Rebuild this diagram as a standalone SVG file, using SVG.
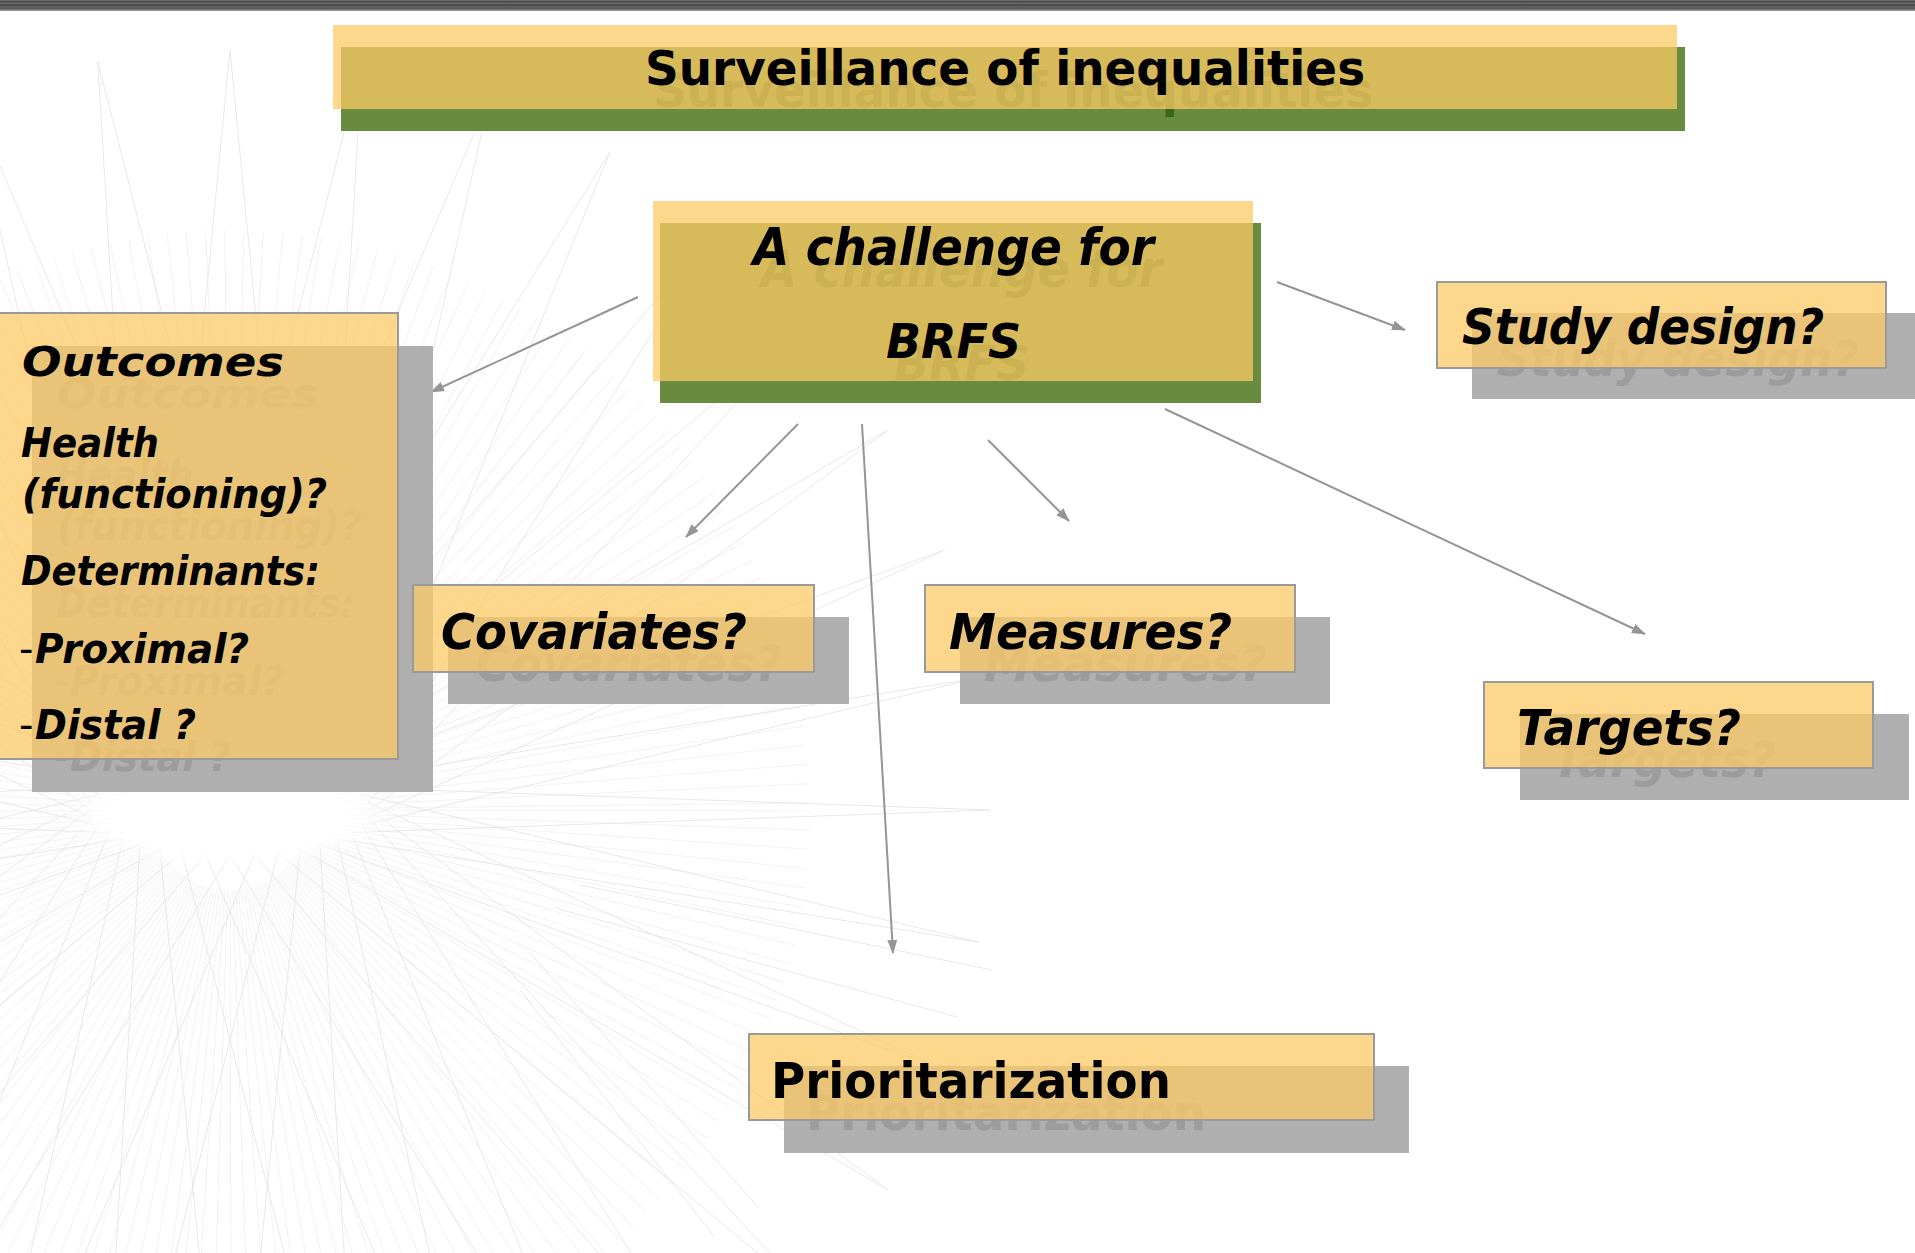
<svg xmlns="http://www.w3.org/2000/svg" xmlns:xlink="http://www.w3.org/1999/xlink" width="1915" height="1253" viewBox="0 0 1915 1253">
  <defs>
    <style>
      .box{fill:#fccb66;fill-opacity:.75;stroke:#9a9a9a;stroke-width:2}
      .hbox{fill:#fccb66;fill-opacity:.75}
      .sh-gray{fill:#afafaf}
      .sh-green{fill:#698b3f}
      .st-gray{fill:#9c9c9c}
      .st-green{fill:#3a6418}
      .ink{fill:#000000}
      .it{font-family:"DejaVu Sans",Verdana,sans-serif;font-weight:bold;font-style:italic}
      .rg{font-family:"DejaVu Sans",Tahoma,sans-serif;font-weight:bold}
      .dash{font-family:"DejaVu Sans",sans-serif;font-weight:normal;font-style:normal}
      .conn{stroke:#959595;stroke-width:2;fill:none}
      .bgl{stroke:#e8e8e8;stroke-width:1;fill:none}
    </style>
    <linearGradient id="topbar" x1="0" y1="0" x2="0" y2="1">
      <stop offset="0" stop-color="#7a7a7a"/>
      <stop offset="0.15" stop-color="#454545"/>
      <stop offset="0.3" stop-color="#6e6e6e"/>
      <stop offset="0.45" stop-color="#404040"/>
      <stop offset="0.6" stop-color="#666666"/>
      <stop offset="0.75" stop-color="#505050"/>
      <stop offset="0.9" stop-color="#858585"/>
      <stop offset="1" stop-color="#a0a0a0"/>
    </linearGradient>
    <radialGradient id="hole" cx="0.5" cy="0.5" r="0.5">
      <stop offset="0" stop-color="#ffffff" stop-opacity="1"/>
      <stop offset="0.7" stop-color="#ffffff" stop-opacity="0.9"/>
      <stop offset="1" stop-color="#ffffff" stop-opacity="0"/>
    </radialGradient>
    <clipPath id="backdrop-clip">
      <rect x="0" y="11" width="1010" height="1242"/>
    </clipPath>
    <marker id="arrow" markerUnits="userSpaceOnUse" markerWidth="14" markerHeight="10" refX="13" refY="5" orient="auto">
      <path d="M0,0 L14,5 L0,10 z" fill="#959595"/>
    </marker>
  </defs>

  <rect x="0" y="0" width="1915" height="1253" fill="#ffffff"/>

  <!-- faint string-art tunnel in the background -->
  <g id="backdrop" clip-path="url(#backdrop-clip)">
    <circle cx="230" cy="810" r="330" fill="none" stroke="#f3f3f3" stroke-width="500" stroke-dasharray="1 10"/>
    <path class="bgl" d="M370,810L888.2,1190M367.9,817.8L812.2,1298.7M361.6,825.4L718.7,1392.2M351.2,832.5L610,1468.2M337.2,838.9L489.9,1524.4M320,844.5L362.2,1558.6M300,849L230,1570M277.9,852.3L97.8,1558.6M254.4,854.3L-29.9,1524.4M230,855L-150,1468.2M205.6,854.3L-258.7,1392.2M182.1,852.3L-352.2,1298.7M160,849L-428.2,1190M140,844.5L-484.4,1069.9M122.8,838.9L-518.6,942.2M108.8,832.5L-530,810M98.4,825.4L-518.6,677.8M92.1,817.8L-484.4,550.1M90,810L-428.2,430M92.1,802.2L-352.2,321.3M98.4,794.6L-258.7,227.8M108.8,787.5L-150,151.8M122.8,781.1L-29.9,95.6M140,775.5L97.8,61.4M160,771L230,50M182.1,767.7L362.2,61.4M205.6,765.7L489.9,95.6M230,765L610,151.8M254.4,765.7L718.7,227.8M277.9,767.7L812.2,321.3M300,771L888.2,430M320,775.5L944.4,550.1M337.2,781.1L978.6,677.8M351.2,787.5L990,810M361.6,794.6L978.6,942.2M367.9,802.2L944.4,1069.9"/>
    <path class="bgl" d="M370,810L888.2,430M367.9,817.8L944.4,550.1M361.6,825.4L978.6,677.8M351.2,832.5L990,810M337.2,838.9L978.6,942.2M320,844.5L944.4,1069.9M300,849L888.2,1190M277.9,852.3L812.2,1298.7M254.4,854.3L718.7,1392.2M230,855L610,1468.2M205.6,854.3L489.9,1524.4M182.1,852.3L362.2,1558.6M160,849L230,1570M140,844.5L97.8,1558.6M122.8,838.9L-29.9,1524.4M108.8,832.5L-150,1468.2M98.4,825.4L-258.7,1392.2M92.1,817.8L-352.2,1298.7M90,810L-428.2,1190M92.1,802.2L-484.4,1069.9M98.4,794.6L-518.6,942.2M108.8,787.5L-530,810M122.8,781.1L-518.6,677.8M140,775.5L-484.4,550.1M160,771L-428.2,430M182.1,767.7L-352.2,321.3M205.6,765.7L-258.7,227.8M230,765L-150,151.8M254.4,765.7L-29.9,95.6M277.9,767.7L97.8,61.4M300,771L230,50M320,775.5L362.2,61.4M337.2,781.1L489.9,95.6M351.2,787.5L610,151.8M361.6,794.6L718.7,227.8M367.9,802.2L812.2,321.3"/>
    <path class="bgl" d="M580,885L992,970M555,908L957,1017M529,952L759,1208M520,990L714,1236"/>
    <ellipse cx="230" cy="815" rx="170" ry="55" fill="url(#hole)"/>
  </g>

  <!-- striped band across the top edge -->
  <rect x="0" y="0" width="1915" height="11" fill="url(#topbar)"/>

  <!-- connectors -->
  <g id="connectors">
    <line class="conn" x1="638" y1="297" x2="431" y2="392" marker-end="url(#arrow)"/>
    <line class="conn" x1="1277" y1="282" x2="1405" y2="330" marker-end="url(#arrow)"/>
    <line class="conn" x1="798" y1="424" x2="686" y2="537" marker-end="url(#arrow)"/>
    <line class="conn" x1="862" y1="424" x2="893" y2="953" marker-end="url(#arrow)"/>
    <line class="conn" x1="988" y1="440" x2="1069" y2="521" marker-end="url(#arrow)"/>
    <line class="conn" x1="1165" y1="409" x2="1645" y2="634" marker-end="url(#arrow)"/>
  </g>

  <!-- title banner -->
  <g id="title">
    <rect class="sh-green" x="341" y="47" width="1344" height="84"/>
    <use xlink:href="#title-text" href="#title-text" x="8" y="22" class="st-green"/>
    <rect class="hbox" x="333" y="25" width="1344" height="84"/>
    <g class="ink">
      <text id="title-text" class="rg" x="645" y="85" font-size="48" textLength="720" lengthAdjust="spacingAndGlyphs">Surveillance of inequalities</text>
    </g>
  </g>

  <!-- central node -->
  <g id="challenge">
    <rect class="sh-green" x="660" y="223" width="601" height="180"/>
    <use xlink:href="#challenge-text" href="#challenge-text" x="8" y="22" class="st-green"/>
    <rect class="hbox" x="653" y="201" width="600" height="180"/>
    <g class="ink">
      <g id="challenge-text">
        <text class="it" x="753" y="265" font-size="51" textLength="401" lengthAdjust="spacingAndGlyphs">A challenge for</text>
        <text class="it" x="886" y="358" font-size="48" textLength="135" lengthAdjust="spacingAndGlyphs">BRFS</text>
      </g>
    </g>
  </g>

  <!-- Outcomes -->
  <g id="outcomes">
    <rect class="sh-gray" x="32" y="346" width="401" height="446"/>
    <use xlink:href="#outcomes-text" href="#outcomes-text" x="35" y="32" class="st-gray"/>
    <rect class="box" x="-3" y="313" width="401" height="446"/>
    <g class="ink">
      <g id="outcomes-text">
        <text class="it" x="22" y="376" font-size="41" textLength="262" lengthAdjust="spacingAndGlyphs">Outcomes</text>
        <text class="it" x="21" y="457" font-size="40" textLength="138" lengthAdjust="spacingAndGlyphs">Health</text>
        <text class="it" x="22" y="508" font-size="40" textLength="305" lengthAdjust="spacingAndGlyphs">(functioning)?</text>
        <text class="it" x="21" y="585" font-size="40" textLength="299" lengthAdjust="spacingAndGlyphs">Determinants:</text>
        <text x="19" y="663" font-size="40"><tspan class="dash">-</tspan><tspan class="it" x="35" textLength="214" lengthAdjust="spacingAndGlyphs">Proximal?</tspan></text>
        <text x="19" y="739" font-size="40"><tspan class="dash">-</tspan><tspan class="it" x="35" textLength="161" lengthAdjust="spacingAndGlyphs">Distal ?</tspan></text>
      </g>
    </g>
  </g>

  <!-- Study design -->
  <g id="study-design">
    <rect class="sh-gray" x="1472" y="313" width="449" height="86"/>
    <use xlink:href="#study-text" href="#study-text" x="35" y="32" class="st-gray"/>
    <rect class="box" x="1437" y="282" width="449" height="86"/>
    <g class="ink">
      <text id="study-text" class="it" x="1462" y="344" font-size="50" textLength="362" lengthAdjust="spacingAndGlyphs">Study design?</text>
    </g>
  </g>

  <!-- Covariates -->
  <g id="covariates">
    <rect class="sh-gray" x="448" y="617" width="401" height="87"/>
    <use xlink:href="#covariates-text" href="#covariates-text" x="35" y="32" class="st-gray"/>
    <rect class="box" x="413" y="585" width="401" height="87"/>
    <g class="ink">
      <text id="covariates-text" class="it" x="441" y="649" font-size="50" textLength="306" lengthAdjust="spacingAndGlyphs">Covariates?</text>
    </g>
  </g>

  <!-- Measures -->
  <g id="measures">
    <rect class="sh-gray" x="960" y="617" width="370" height="87"/>
    <use xlink:href="#measures-text" href="#measures-text" x="35" y="32" class="st-gray"/>
    <rect class="box" x="925" y="585" width="370" height="87"/>
    <g class="ink">
      <text id="measures-text" class="it" x="949" y="649" font-size="50" textLength="283" lengthAdjust="spacingAndGlyphs">Measures?</text>
    </g>
  </g>

  <!-- Targets -->
  <g id="targets">
    <rect class="sh-gray" x="1520" y="714" width="389" height="86"/>
    <use xlink:href="#targets-text" href="#targets-text" x="35" y="32" class="st-gray"/>
    <rect class="box" x="1484" y="682" width="389" height="86"/>
    <g class="ink">
      <text id="targets-text" class="it" x="1517" y="745" font-size="50" textLength="224" lengthAdjust="spacingAndGlyphs">Targets?</text>
    </g>
  </g>

  <!-- Prioritarization -->
  <g id="prioritarization">
    <rect class="sh-gray" x="784" y="1066" width="625" height="87"/>
    <use xlink:href="#prior-text" href="#prior-text" x="35" y="32" class="st-gray"/>
    <rect class="box" x="749" y="1034" width="625" height="86"/>
    <g class="ink">
      <text id="prior-text" class="rg" x="771" y="1098" font-size="50" textLength="400" lengthAdjust="spacingAndGlyphs">Prioritarization</text>
    </g>
  </g>
</svg>
